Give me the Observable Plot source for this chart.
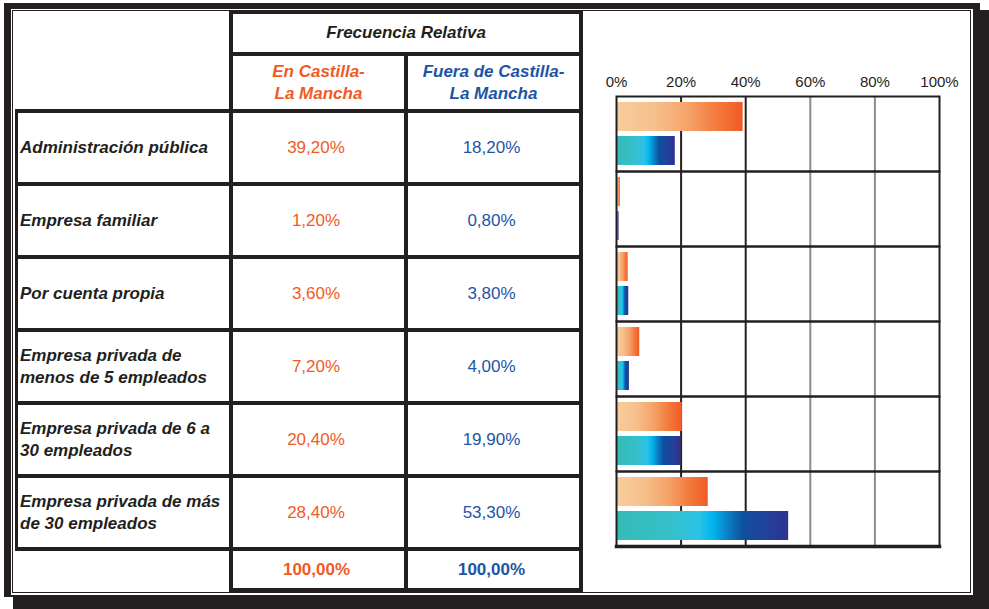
<!DOCTYPE html>
<html><head><meta charset="utf-8">
<script src="https://cdn.jsdelivr.net/npm/d3@7"></script>
<script src="https://cdn.jsdelivr.net/npm/@observablehq/plot@0.6"></script>
<style>
body{margin:0;background:#fff;}
#page{position:relative;width:989px;height:609px;overflow:hidden;font-family:"Liberation Sans",Arial,sans-serif;color:#231f20;}
.blk{position:absolute;background:#231f20;}
.wht{position:absolute;background:#fff;}
.cell{position:absolute;display:flex;align-items:center;font-size:17px;line-height:22px;white-space:pre-line;box-sizing:border-box;}
.c{justify-content:center;text-align:center;}
.bi{font-weight:bold;font-style:italic;}
.b{font-weight:bold;}
</style></head><body><div id="page"></div>
<script>
// ---- data ----
const categories = [
  "Administración pública",
  "Empresa familiar",
  "Por cuenta propia",
  "Empresa privada de menos de 5 empleados",
  "Empresa privada de 6 a 30 empleados",
  "Empresa privada de más de 30 empleados"
];
const categoryLabels = [
  "Administración pública",
  "Empresa familiar",
  "Por cuenta propia",
  "Empresa privada de\nmenos de 5 empleados",
  "Empresa privada de 6 a\n30 empleados",
  "Empresa privada de más\nde 30 empleados"
];
const seriesKeys = ["en", "fuera"];
const seriesNames = ["En Castilla-\nLa Mancha", "Fuera de Castilla-\nLa Mancha"];
const enCLM = [39.2, 1.2, 3.6, 7.2, 20.4, 28.4];
const fueraCLM = [18.2, 0.8, 3.8, 4.0, 19.9, 53.3];
const totals = [100, 100];
const headerTitle = "Frecuencia Relativa";
const xTicks = [0, 20, 40, 60, 80, 100];

const ORANGE = "#f15a24", BLUE = "#1c55a6", INK = "#231f20";
const fmt = v => v.toFixed(2).replace(".", ",") + "%";

const page = document.getElementById("page");
function box(cls, l, t, w, h, html, style) {
  const d = document.createElement("div");
  d.className = cls;
  Object.assign(d.style, {left: l + "px", top: t + "px", width: w + "px", height: h + "px"}, style || {});
  if (html != null) d.textContent = html;
  page.appendChild(d);
  return d;
}

// ---- outer frame ----
box("blk", 13, 10, 976, 599);
box("blk", 4, 3, 976, 594);
box("wht", 11, 9, 962, 586);
box("", 12, 10, 959, 583, null, {position: "absolute", border: "1.5px solid " + INK, boxSizing: "border-box"});

// ---- table grid ----
const rowTop0 = 111, rowH = 73, nRows = categories.length;
const lastLine = rowTop0 + rowH * nRows; // 549
box("blk", 229, 10, 354, 4);
box("blk", 229, 51.5, 354, 4);
for (let i = 0; i <= nRows; i++) box("blk", 15, rowTop0 + rowH * i - 2, 568, 4);
box("blk", 229, 588, 354, 4);
box("blk", 15, rowTop0 - 2, 3, rowH * nRows + 4);
box("blk", 229, 10, 4, 582);
box("blk", 404, 51.5, 4, 540.5);
box("blk", 579, 10, 4, 583);

// ---- table texts ----
box("cell c bi", 233, 14, 346, 37.5, headerTitle);
box("cell c bi", 233, 56.5, 171, 53.5, seriesNames[0], {color: ORANGE});
box("cell c bi", 408, 56.5, 171, 53.5, seriesNames[1], {color: BLUE});
categoryLabels.forEach((lab, i) => {
  const t = rowTop0 + rowH * i + 2;
  box("cell bi", 18, t, 211, rowH - 4, lab, {paddingLeft: "2px"});
  box("cell c", 231, t, 170, rowH - 4, fmt(enCLM[i]), {color: ORANGE});
  box("cell c", 406, t, 171, rowH - 4, fmt(fueraCLM[i]), {color: BLUE});
});
box("cell c b", 231, lastLine + 2, 171, 37, fmt(totals[0]), {color: ORANGE});
box("cell c b", 406, lastLine + 2, 171, 37, fmt(totals[1]), {color: BLUE});

// ---- bar chart ----
const rows = categories.flatMap((c, i) => [
  {category: c, series: seriesKeys[0], value: enCLM[i]},
  {category: c, series: seriesKeys[1], value: fueraCLM[i]}
]);

const chart = Plot.plot({
  width: 388, height: 582,
  marginLeft: 33, marginRight: 32, marginTop: 84, marginBottom: 46,
  style: {fontFamily: '"Liberation Sans", Arial, sans-serif', fontSize: "15px", color: INK, background: "transparent", overflow: "visible"},
  facet: {data: rows, y: "category"},
  fy: {domain: categories, padding: 0, axis: null},
  x: {domain: [0, 100]},
  y: {domain: seriesKeys, paddingInner: 0.143, paddingOuter: 0.148, axis: null},
  color: {domain: seriesKeys, range: ["url(#gradEn)", "url(#gradFuera)"]},
  marks: [
    Plot.ruleX([20, 40], {stroke: INK, strokeWidth: 2}),
    Plot.ruleX([60, 80], {stroke: "#8c8c8c", strokeWidth: 2}),
    Plot.barX(rows, {x: "value", y: "series", fill: "series"}),
    Plot.frame({stroke: INK, strokeWidth: 2}),
    Plot.frame({anchor: "bottom", facetAnchor: "bottom", stroke: INK, strokeWidth: 3.5}),
    Plot.axisX(xTicks, {anchor: "top", tickSize: 0, tickPadding: 10, tickFormat: d => d + "%", label: null, fontSize: 15, fill: INK})
  ]
});

const svg = d3.select(chart);
const defs = svg.insert("defs", ":first-child");
function grad(id, stops) {
  const g = defs.append("linearGradient").attr("id", id)
    .attr("x1", "0%").attr("x2", "100%").attr("y1", "0%").attr("y2", "0%");
  stops.forEach(([o, c]) => g.append("stop").attr("offset", o).attr("stop-color", c));
}
grad("gradEn", [[0, "#f8cd9e"], [0.3, "#f7c08c"], [0.55, "#f5a56c"], [0.8, "#f37a3c"], [1, "#f15a24"]]);
grad("gradFuera", [[0, "#33bcb6"], [0.3, "#36bfc8"], [0.48, "#2cc3e6"], [0.56, "#00b6f0"], [0.66, "#0a78c0"], [0.74, "#0f4f9e"], [0.88, "#23419a"], [1, "#2e3192"]]);

chart.style.position = "absolute";
chart.style.left = "583px";
chart.style.top = "11px";
page.appendChild(chart);
</script>
</body></html>
